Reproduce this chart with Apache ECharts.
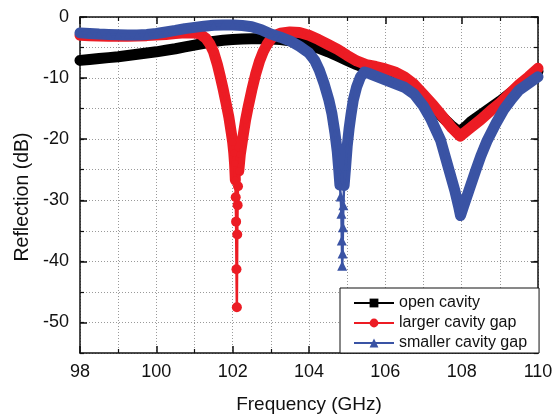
<!DOCTYPE html>
<html>
<head>
<meta charset="utf-8">
<script src="https://cdn.jsdelivr.net/npm/echarts@6/dist/echarts.min.js"></script>
<style>
  html, body { margin: 0; padding: 0; background: #fff; }
  #chart { width: 559px; height: 414px; }
</style>
</head>
<body>
<div id="chart"></div>
<script>
// values (GHz, dB)
const freqOpen = [98, 98.25, 98.5, 98.75, 99, 99.25, 99.5, 99.75, 100, 100.25, 100.5, 100.75, 101, 101.25, 101.5, 101.75,
  102, 102.25, 102.5, 102.75, 103, 103.25, 103.5, 103.75, 104, 104.25, 104.5, 104.75, 105, 105.25, 105.5, 105.75,
  106, 106.25, 106.5, 106.75, 107, 107.25, 107.5, 107.75, 107.93, 108.1, 108.25, 108.5, 108.75, 109, 109.25, 109.5, 109.75, 110];
const openCavity = [-7.1, -6.95, -6.8, -6.65, -6.5, -6.3, -6.1, -5.9, -5.7, -5.45, -5.2, -4.9, -4.6, -4.3, -4.0, -3.8,
  -3.7, -3.6, -3.55, -3.55, -3.6, -3.7, -3.9, -4.2, -4.6, -5.1, -5.7, -6.4, -7.1, -7.8, -8.4, -8.8,
  -9.2, -9.8, -10.6, -11.8, -13.2, -14.8, -16.4, -17.9, -18.8, -18.0, -17.1, -16.0, -14.9, -13.8, -12.6, -11.4, -10.2, -8.9];

const freqLarger = [98, 98.25, 98.5, 98.75, 99, 99.25, 99.5, 99.75, 100, 100.25, 100.5, 100.75, 101, 101.15, 101.3, 101.4,
  101.5, 101.6, 101.67, 101.75, 101.83, 101.9, 101.96, 102, 102.03, 102.05, 102.07, 102.08, 102.09, 102.1, 102.11,
  102.12, 102.13, 102.14, 102.16, 102.2, 102.27, 102.34, 102.41, 102.5, 102.6, 102.7, 102.8, 102.9, 103, 103.12,
  103.25, 103.5, 103.75, 104, 104.25, 104.5, 104.75, 105, 105.25, 105.5, 105.75, 106, 106.25, 106.5, 106.75, 107,
  107.25, 107.5, 107.75, 107.96, 108.2, 108.5, 108.75, 109, 109.25, 109.5, 109.75, 110];
const largerGap = [-3.0, -3.05, -3.1, -3.15, -3.15, -3.15, -3.1, -3.05, -2.95, -2.85, -2.7, -2.6, -2.6, -2.8, -3.5, -4.4,
  -5.7, -7.8, -9.6, -11.8, -14.2, -16.4, -18.8, -20.5, -22.3, -24.0, -26.7, -29.5, -33.5, -41.3, -47.5,
  -35.6, -30.8, -27.7, -25.2, -22.5, -19.6, -16.8, -14.6, -12.0, -9.4, -7.3, -5.7, -4.5, -3.6, -3.0,
  -2.65, -2.45, -2.55, -3.0, -3.7, -4.5, -5.3, -6.3, -7.2, -7.8, -8.1, -8.5, -9.0, -9.8, -11.0, -12.7,
  -14.4, -16.3, -18.2, -19.5, -18.3, -16.8, -15.4, -14.1, -12.6, -11.1, -9.8, -8.4];

const freqSmaller = [98, 98.25, 98.5, 98.75, 99, 99.25, 99.5, 99.75, 100, 100.25, 100.5, 100.75, 101, 101.25, 101.5, 101.75,
  102, 102.25, 102.5, 102.75, 103, 103.25, 103.5, 103.75, 104, 104.15, 104.27, 104.4, 104.52, 104.6, 104.68, 104.74,
  104.78, 104.81, 104.83, 104.85, 104.86, 104.87, 104.88, 104.89, 104.9, 104.92, 104.96, 105, 105.05, 105.1, 105.16,
  105.25, 105.35, 105.45, 105.6, 105.8, 106, 106.25, 106.5, 106.75, 107, 107.2, 107.45, 107.67, 107.82, 107.92, 107.97,
  108.05, 108.19, 108.37, 108.5, 108.67, 108.9, 109.1, 109.3, 109.5, 109.75, 110];
const smallerGap = [-2.6, -2.7, -2.8, -2.85, -2.9, -2.95, -2.95, -2.85, -2.7, -2.45, -2.2, -1.9, -1.7, -1.5, -1.35, -1.3,
  -1.3, -1.4, -1.6, -2.1, -2.8, -3.3, -3.9, -4.8, -5.9, -7.1, -8.7, -11.0, -13.6, -15.8, -19.0, -22.0,
  -25.0, -27.5, -29.4, -32.2, -36.6, -40.7, -38.7, -34.4, -30.8, -27.6, -24.5, -21.2, -18.3, -16.0, -13.6,
  -11.4, -9.8, -9.0, -9.3, -9.8, -10.3, -10.9, -11.5, -12.6, -14.6, -16.8, -20.2, -25.1, -28.4, -31.0, -32.5,
  -31.0, -28.4, -25.1, -22.8, -20.2, -17.4, -15.2, -13.5, -12.0, -10.9, -9.8];

const seriesNames = ['open cavity', 'larger cavity gap', 'smaller cavity gap'];
const yMajorTicks = [0, -10, -20, -30, -40, -50];

// frequency windows where the markers stand apart (thin line only)
const largerThin = [102.075, 102.155];
const smallerThin = [104.825, 104.915];

const FONT = 'Liberation Sans, Arial, Helvetica, sans-serif';
const chart = echarts.init(document.getElementById('chart'));

const inWindow = (f, w) => !!w && f > w[0] && f < w[1];
const pairs = (fs, vs) => fs.map((f, i) => [f, vs[i]]);
const bandPairs = (fs, vs, thin) => fs.map((f, i) => [f, inWindow(f, thin) ? '-' : vs[i]]);

// each curve gets its own z pair so later curves sit fully on top
function curve(name, color, symbol, size, fs, vs, thin, z) {
  return [
    {
      // dense markers in the original merge into a thick band
      type: 'line',
      z: z,
      data: bandPairs(fs, vs, thin),
      symbol: 'none',
      silent: true,
      lineStyle: { color: color, width: 11, cap: 'round', join: 'round' }
    },
    {
      name: name,
      type: 'line',
      z: z + 1,
      data: pairs(fs, vs),
      symbol: symbol,
      symbolSize: val => (inWindow(val[0], thin) ? size : size - 3),
      showAllSymbol: true,
      itemStyle: { color: color },
      lineStyle: { color: color, width: 2.5 }
    }
  ];
}

const dotted = { color: '#9a9a9a', width: 1, type: [1, 2] };
const axisLine = { show: true, onZero: false, lineStyle: { color: '#111', width: 1.5 } };

const yBase = { type: 'value', min: -55, max: 0, interval: 5 };

const option = {
  animation: false,
  grid: { left: 80, right: 21, top: 17, bottom: 61 },
  xAxis: [
    {
      type: 'value', min: 98, max: 110, interval: 2, position: 'bottom',
      axisLine: axisLine,
      axisTick: { inside: true, length: 7, lineStyle: { color: '#111', width: 1.5 } },
      minorTick: { show: true, splitNumber: 2, length: 4, lineStyle: { color: '#111', width: 1.2 } },
      axisLabel: { fontSize: 18, fontFamily: FONT, color: '#111', margin: 10 },
      splitLine: { show: true, lineStyle: dotted },
      minorSplitLine: { show: true, lineStyle: dotted }
    },
    {
      type: 'value', min: 98, max: 110, interval: 2, position: 'top',
      axisLine: axisLine,
      axisTick: { inside: true, length: 7, lineStyle: { color: '#111', width: 1.5 } },
      minorTick: { show: true, splitNumber: 2, length: 4, lineStyle: { color: '#111', width: 1.2 } },
      axisLabel: { show: false },
      splitLine: { show: false }
    }
  ],
  yAxis: [
    Object.assign({}, yBase, {
      position: 'left',
      axisLine: axisLine,
      axisTick: { inside: true, length: 4, lineStyle: { color: '#111', width: 1.2 } },
      axisLabel: {
        fontSize: 18, fontFamily: FONT, color: '#111', margin: 11,
        formatter: v => (v % 10 === 0 ? String(v) : '')
      },
      splitLine: { show: true, lineStyle: dotted }
    }),
    Object.assign({}, yBase, {
      position: 'left',
      axisLine: { show: false },
      axisTick: { inside: true, length: 7, customValues: yMajorTicks, lineStyle: { color: '#111', width: 1.5 } },
      axisLabel: { show: false },
      splitLine: { show: false }
    }),
    Object.assign({}, yBase, {
      position: 'right',
      axisLine: axisLine,
      axisTick: { inside: true, length: 4, lineStyle: { color: '#111', width: 1.2 } },
      axisLabel: { show: false },
      splitLine: { show: false }
    }),
    Object.assign({}, yBase, {
      position: 'right',
      axisLine: { show: false },
      axisTick: { inside: true, length: 7, customValues: yMajorTicks, lineStyle: { color: '#111', width: 1.5 } },
      axisLabel: { show: false },
      splitLine: { show: false }
    })
  ],
  legend: {
    data: seriesNames,
    z: 20,
    orient: 'vertical',
    left: 340,
    top: 288,
    padding: [7, 12, 2, 13],
    itemWidth: 40,
    itemHeight: 11,
    itemGap: 4,
    backgroundColor: '#fff',
    borderColor: '#111',
    borderWidth: 1,
    borderRadius: 0,
    textStyle: { fontSize: 16, fontFamily: FONT, color: '#111' }
  },
  graphic: [
    {
      type: 'text', x: 309, y: 405,
      style: { text: 'Frequency (GHz)', fontSize: 19, fontFamily: FONT, fill: '#111', align: 'center', verticalAlign: 'middle' }
    },
    {
      type: 'text', x: 23, y: 197, rotation: Math.PI / 2,
      style: { text: 'Reflection (dB)', fontSize: 19.5, fontFamily: FONT, fill: '#111', align: 'center', verticalAlign: 'middle' }
    }
  ],
  series: [].concat(
    curve(seriesNames[0], '#000000', 'rect', 9, freqOpen, openCavity, null, 2),
    curve(seriesNames[1], '#ec1c24', 'circle', 10, freqLarger, largerGap, largerThin, 4),
    curve(seriesNames[2], '#3a53a4', 'triangle', 10, freqSmaller, smallerGap, smallerThin, 6)
  )
};

chart.setOption(option);
</script>
</body>
</html>
